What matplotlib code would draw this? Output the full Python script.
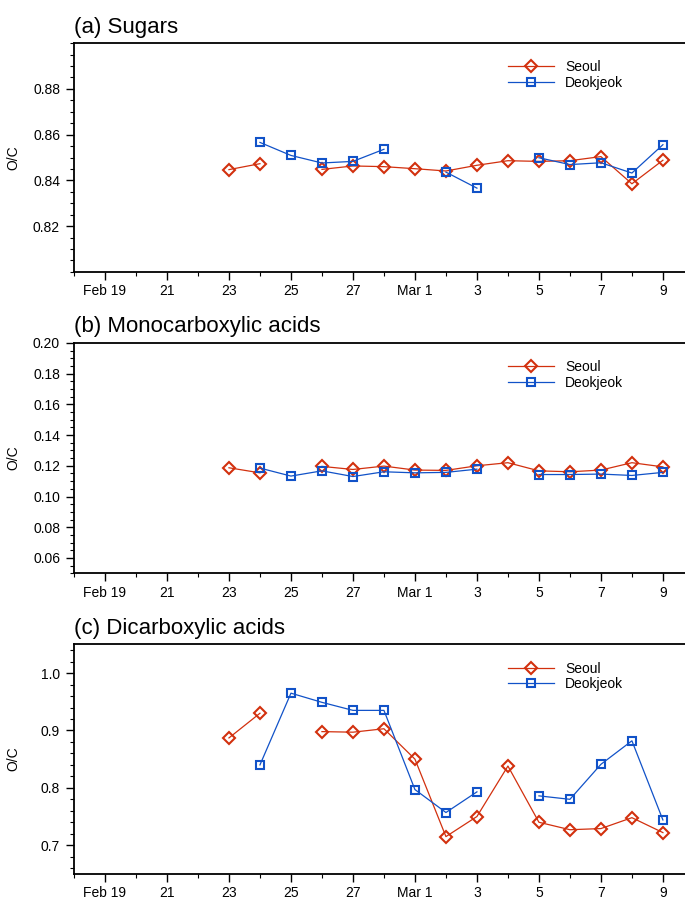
"""O/C ratios of sugars, mono- and dicarboxylic acids at Seoul and Deokjeok."""

from datetime import datetime

import matplotlib
matplotlib.use("Agg")
import matplotlib.pyplot as plt
import matplotlib.dates as mdates
from matplotlib.ticker import MultipleLocator
import numpy as np

plt.rcParams["font.family"] = ["Liberation Sans", "DejaVu Sans"]

nan = np.nan

# sampling days, Feb 23 .. Mar 9
days = [datetime(2009, 2, d) for d in range(23, 29)] + \
       [datetime(2009, 3, d) for d in range(1, 10)]

sugars_seoul = [0.8447, 0.8473, nan, 0.8448, 0.8463, 0.8460, 0.8451, 0.8441,
                0.8466, 0.8486, 0.8483, 0.8486, 0.8504, 0.8385, 0.8488]
sugars_deok = [nan, 0.8566, 0.8509, 0.8476, 0.8483, 0.8536, nan, 0.8436,
               0.8366, nan, 0.8499, 0.8469, 0.8477, 0.8432, 0.8556]

mono_seoul = [0.1187, 0.1154, nan, 0.1196, 0.1176, 0.1198, 0.1172, 0.1170,
              0.1200, 0.1220, 0.1167, 0.1161, 0.1172, 0.1220, 0.1193]
mono_deok = [nan, 0.1185, 0.1133, 0.1167, 0.1130, 0.1161, 0.1154, 0.1157,
             0.1178, nan, 0.1143, 0.1143, 0.1146, 0.1137, 0.1157]

di_seoul = [0.887, 0.930, nan, 0.898, 0.897, 0.903, 0.850, 0.715,
            0.750, 0.838, 0.740, 0.727, 0.729, 0.748, 0.722]
di_deok = [nan, 0.840, 0.965, 0.949, 0.935, 0.935, 0.797, 0.757,
           0.793, nan, 0.786, 0.780, 0.841, 0.882, 0.744]

tick_days = [datetime(2009, 2, d) for d in (19, 21, 23, 25, 27)] + \
            [datetime(2009, 3, d) for d in (1, 3, 5, 7, 9)]
tick_labels = ["Feb 19", "21", "23", "25", "27", "Mar 1", "3", "5", "7", "9"]

sugars_yticks = [0.82, 0.84, 0.86, 0.88]
mono_yticks = [0.06, 0.08, 0.10, 0.12, 0.14, 0.16, 0.18, 0.20]
di_yticks = [0.7, 0.8, 0.9, 1.0]

panels = [
    ("(a) Sugars", sugars_seoul, sugars_deok, (0.80, 0.90), sugars_yticks,
     0.005, "{:.2f}", (0.952, 0.698)),
    ("(b) Monocarboxylic acids", mono_seoul, mono_deok, (0.05, 0.20),
     mono_yticks, 0.005, "{:.2f}", (0.619, 0.363)),
    ("(c) Dicarboxylic acids", di_seoul, di_deok, (0.65, 1.05), di_yticks,
     0.02, "{:.1f}", (0.284, 0.029)),
]

RED = "#d2300e"
BLUE = "#1152c8"

fig = plt.figure(figsize=(6.85, 9.0), dpi=100)

for title, seoul, deok, ylim, yticks, minor, fmt, (top, bottom) in panels:
    ax = fig.add_axes([0.108, bottom, 0.905, top - bottom])
    ax.plot(days, seoul, color=RED, lw=0.9, marker="D", ms=6.4, mew=1.5,
            mfc="none", label="Seoul")
    ax.plot(days, deok, color=BLUE, lw=0.9, marker="s", ms=6.0, mew=1.5,
            mfc="none", label="Deokjeok")

    ax.set_xlim(datetime(2009, 2, 18), datetime(2009, 3, 10))
    ax.set_xticks(tick_days)
    ax.set_xticklabels(tick_labels)
    ax.xaxis.set_minor_locator(mdates.DayLocator())

    ax.set_ylim(*ylim)
    ax.set_yticks(yticks)
    ax.set_yticklabels([fmt.format(t) for t in yticks])
    ax.yaxis.set_minor_locator(MultipleLocator(minor))

    ax.tick_params(which="major", direction="out", length=6, width=1.0,
                   labelsize=10, pad=4)
    ax.tick_params(which="minor", direction="out", length=3, width=0.8)
    ax.tick_params(axis="x", which="major", pad=3)

    for side in ("left", "bottom", "top"):
        ax.spines[side].set_linewidth(1.3)
    ax.spines["right"].set_visible(False)

    ax.set_ylabel("O/C", fontsize=10)
    ax.yaxis.set_label_coords(-0.087, 0.5)

    ax.text(0.0, 1.07, title, transform=ax.transAxes, fontsize=16,
            ha="left", va="center")

    ax.legend(loc="upper left", bbox_to_anchor=(0.70, 0.925), frameon=False,
              fontsize=10, handlelength=3.3, handletextpad=0.8,
              labelspacing=0.12, borderpad=0, borderaxespad=0, numpoints=1)

fig.savefig("out.png", dpi=100)
